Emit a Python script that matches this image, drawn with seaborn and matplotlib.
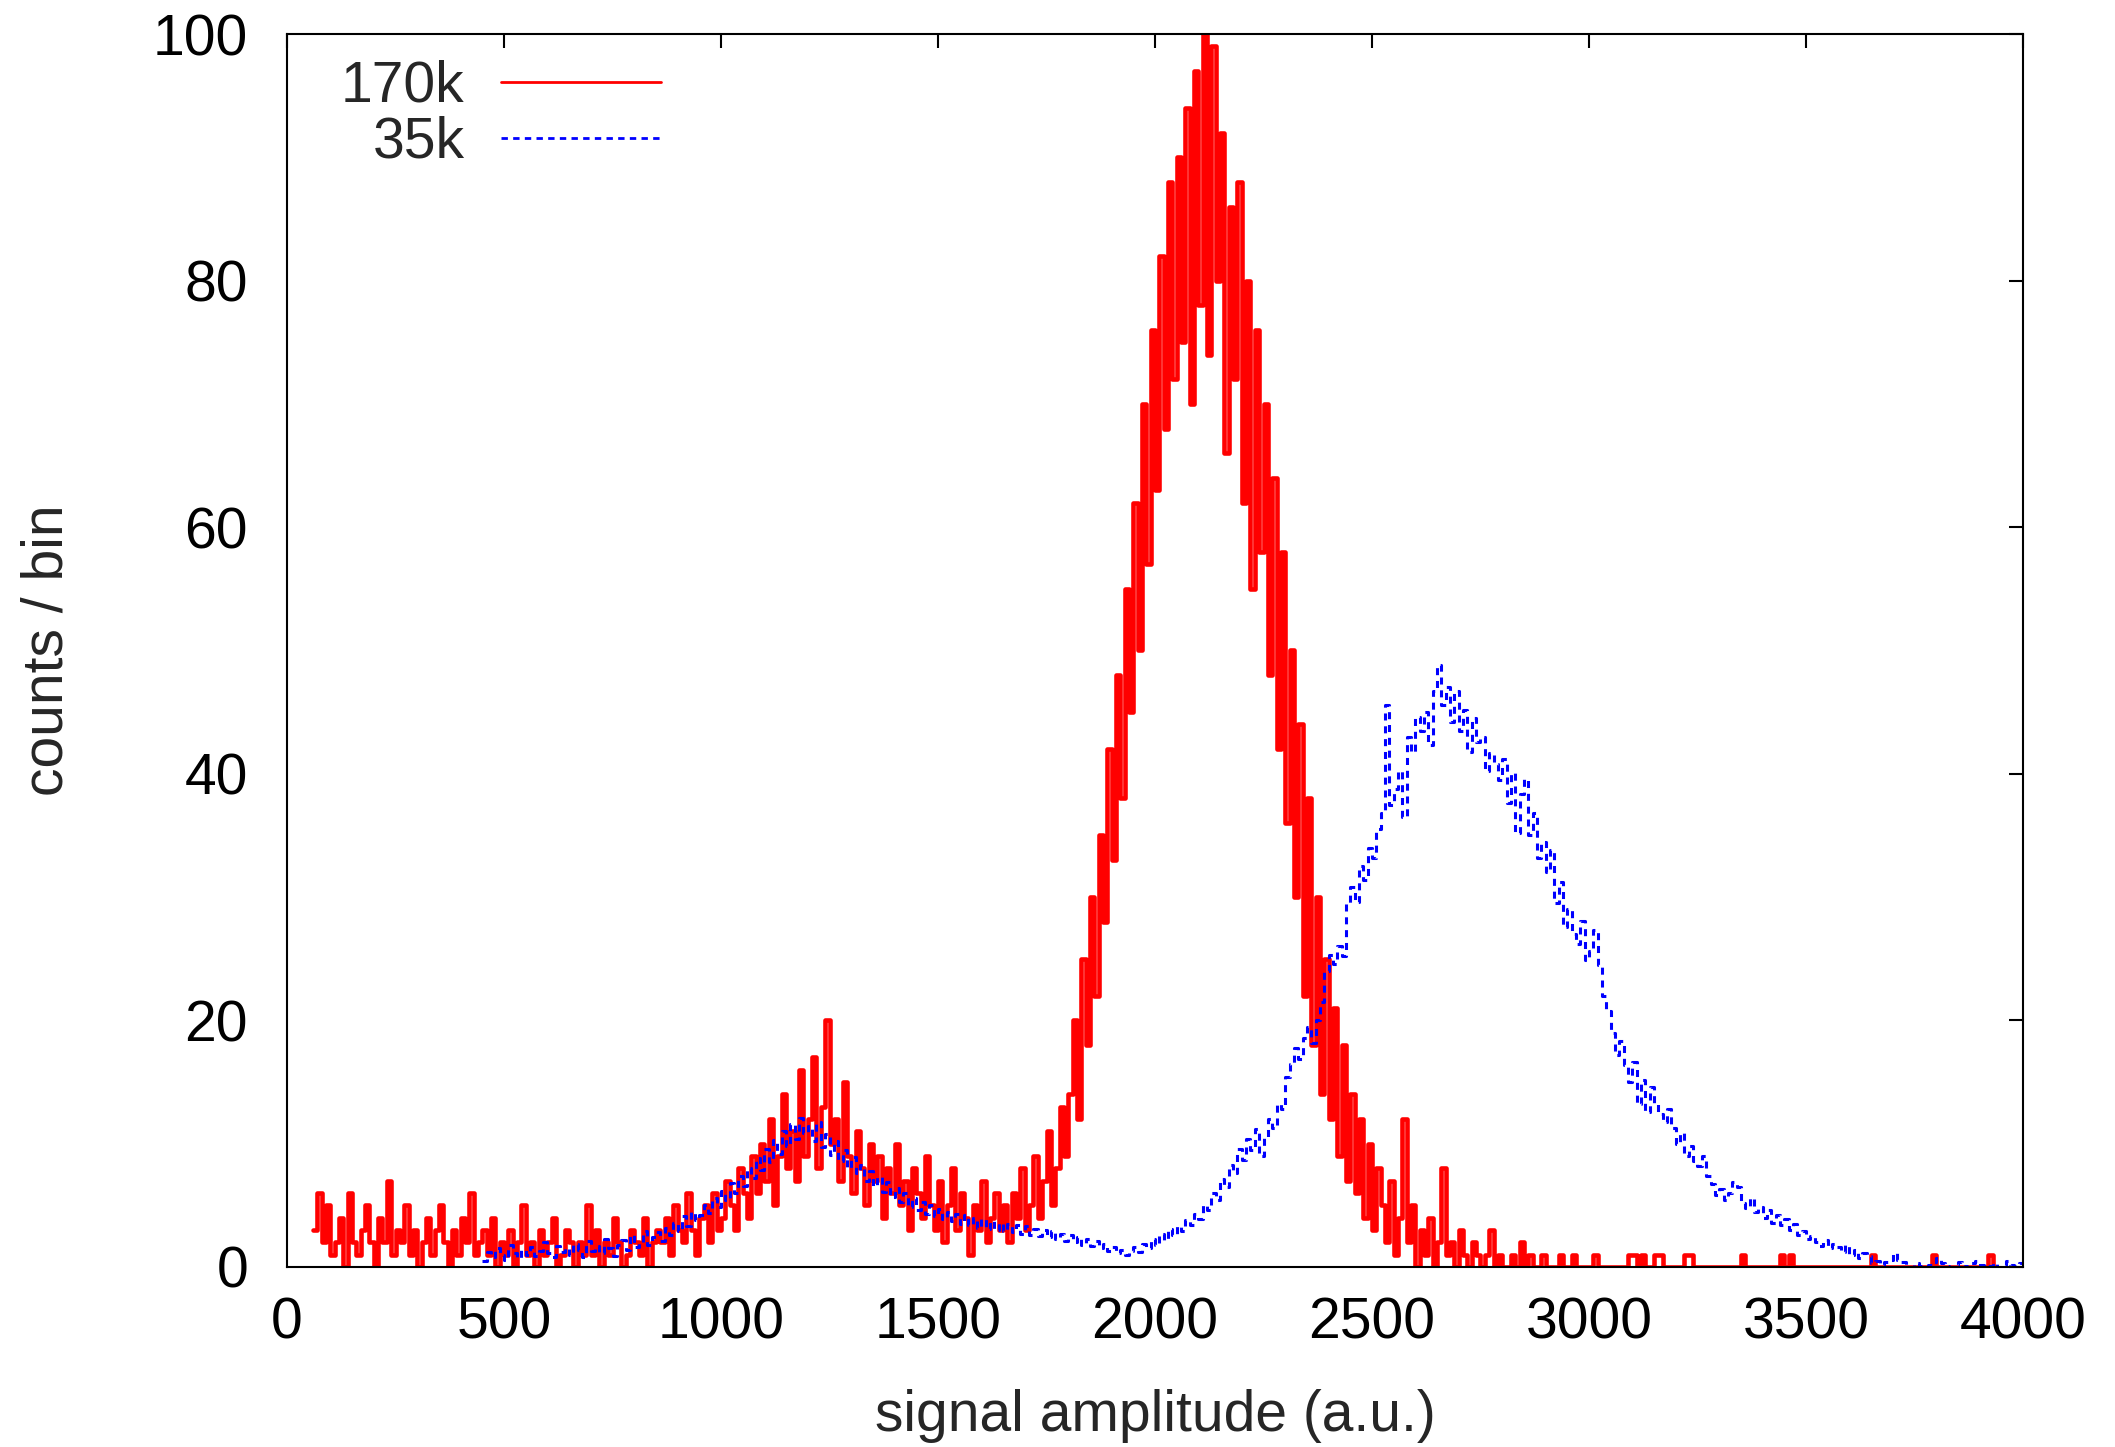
import numpy as np
import pandas as pd
import seaborn as sb
import matplotlib.pyplot as plt

# histogram of the 170k run: first bin edge, bin width, counts per bin
red_start, red_width = 60, 10
red_counts = [
    3, 6, 2, 5, 1, 2, 4, 0, 6, 2, 1, 3, 5, 2, 0, 4, 2, 7, 1, 3,          # 60
    2, 5, 1, 3, 0, 2, 4, 1, 3, 5, 2, 0, 3, 1, 4, 2, 6, 1, 2, 3,          # 260
    1, 4, 0, 2, 1, 3, 0, 2, 5, 1, 2, 0, 3, 1, 2, 4, 0, 1, 3, 2,          # 460
    0, 2, 1, 5, 1, 3, 0, 2, 1, 4, 2, 0, 1, 3, 2, 1, 4, 0, 2, 3,          # 660
    2, 4, 1, 5, 3, 2, 6, 3, 1, 4, 5, 2, 6, 3, 4, 7, 5, 3, 8, 6,          # 860
    4, 9, 6, 10, 7, 12, 5, 9, 14, 8, 11, 7, 16, 9, 12, 17, 8, 13, 20, 10,  # 1060
    12, 7, 15, 9, 6, 11, 8, 5, 10, 7, 9, 4, 8, 6, 10, 5, 7, 3, 8, 6,     # 1260
    4, 9, 5, 3, 7, 2, 5, 8, 3, 6, 4, 1, 5, 3, 7, 2, 4, 6, 3, 5,          # 1460
    2, 6, 4, 8, 3, 5, 9, 4, 7, 11, 5, 8, 13, 9, 14, 20, 12, 25, 18, 30,  # 1660
    22, 35, 28, 42, 33, 48, 38, 55, 45, 62, 50, 70, 57, 76, 63, 82, 68, 88, 72, 90,   # 1860
    75, 94, 70, 97, 78, 100, 74, 99, 80, 92, 66, 86, 72, 88, 62, 80, 55, 76, 58, 70,  # 2060
    48, 64, 42, 58, 36, 50, 30, 44, 22, 38, 18, 30, 14, 25, 12, 21, 9, 18, 7, 14,     # 2260
    6, 12, 4, 10, 3, 8, 5, 2, 7, 1, 4, 12, 2, 5, 0, 3, 1, 4, 0, 2,       # 2460
    8, 1, 2, 0, 3, 1, 0, 2, 1, 0, 1, 3, 0, 1, 0, 0, 1, 0, 2, 0,          # 2660
    1, 0, 0, 1, 0, 0, 0, 1, 0, 0, 1, 0, 0, 0, 0, 1, 0, 0, 0, 0,          # 2860
    0, 0, 0, 1, 1, 0, 1, 0, 0, 1, 1, 0, 0, 0, 0, 0, 1, 1, 0, 0,          # 3060
    0, 0, 0, 0, 0, 0, 0, 0, 0, 1, 0, 0, 0, 0, 0, 0, 0, 0, 1, 0,          # 3260
    1, 0, 0, 0, 0, 0, 0, 0, 0, 0, 0, 0, 0, 0, 0, 0, 0, 0, 0, 1,          # 3460
    0, 0, 0, 0, 0, 0, 0, 0, 0, 0, 0, 0, 0, 1, 0, 0, 0, 0, 0, 0,          # 3660
    0, 0, 0, 0, 0, 0, 1, 0,                                              # 3860
]

# histogram of the 35k run
blue_start, blue_width = 450, 10
blue_counts = [
    0.5, 1.2, 0.8, 1.5, 1.0, 0.6, 1.8, 1.1, 0.7, 1.4, 1.0, 1.6, 0.9, 1.3, 2.0, 1.1, 0.8, 1.7, 1.2, 1.5,          # 450
    1.0, 1.9, 1.4, 0.8, 2.1, 1.3, 1.7, 1.1, 2.3, 1.5, 0.9, 1.8, 2.2, 1.4, 2.6, 1.6, 2.0, 2.9, 1.8, 2.4,          # 650
    2.8, 2.1, 3.2, 2.6, 3.6, 2.9, 4.1, 3.3, 4.5, 3.8, 4.2, 5.0, 4.4, 5.6, 4.9, 6.2, 5.4, 6.8, 6.0, 7.4,          # 850
    6.6, 8.0, 7.2, 8.8, 7.9, 9.6, 8.5, 10.3, 9.2, 11.0, 9.8, 11.6, 10.4, 12.1, 10.9, 11.4, 10.2, 11.8, 9.7, 10.8,  # 1050
    9.1, 10.2, 8.6, 9.5, 8.0, 8.9, 7.6, 8.3, 7.0, 7.8, 6.6, 7.3, 6.1, 6.9, 5.7, 6.4, 5.3, 6.0, 4.9, 5.6,        # 1250
    4.6, 5.3, 4.3, 5.0, 4.1, 4.7, 3.9, 4.5, 3.7, 4.3, 3.5, 4.2, 3.4, 4.0, 3.2, 3.9, 3.1, 3.7, 3.0, 3.6,         # 1450
    2.9, 3.5, 2.8, 3.4, 2.7, 3.3, 2.6, 3.1, 2.5, 3.0, 2.4, 2.9, 2.3, 2.7, 2.1, 2.6, 2.0, 2.4, 1.8, 2.3,         # 1650
    1.7, 2.1, 1.5, 1.9, 1.3, 1.6, 1.1, 1.4, 1.0, 1.3, 1.6, 1.2, 1.9, 1.5, 2.3, 1.8, 2.7, 2.2, 3.1, 2.6,         # 1850
    3.3, 2.9, 3.8, 3.4, 4.3, 3.9, 5.0, 4.6, 6.0, 5.4, 7.1, 6.5, 8.3, 7.6, 9.6, 8.7, 10.4, 9.5, 11.2, 9.0,       # 2050
    10.5, 12.0, 11.3, 13.2, 12.8, 15.4, 16.5, 17.8, 16.9, 18.6, 19.5, 18.2, 20.0, 21.5, 24.0, 25.3, 24.6, 26.0, 25.2, 29.5,  # 2250
    30.8, 29.6, 32.5, 31.4, 34.0, 33.2, 35.5, 36.8, 45.6, 37.5, 38.8, 40.2, 36.5, 43.0, 41.8, 44.6, 43.5, 45.0, 42.3, 46.7,  # 2450
    48.8, 45.6, 47.0, 44.2, 46.7, 43.5, 45.2, 41.8, 44.5, 42.6, 43.0, 40.2, 41.7, 40.8, 39.5, 41.2, 37.6, 40.1, 35.2, 38.4,  # 2650
    39.6, 35.0, 36.8, 33.2, 34.5, 32.0, 33.8, 29.5, 31.2, 27.6, 29.0, 27.0, 26.2, 28.1, 24.9, 25.6, 27.3, 24.5, 22.0, 20.8,  # 2850
    19.0, 17.2, 18.3, 16.4, 15.0, 16.6, 13.2, 15.2, 12.6, 14.6, 13.3, 12.4, 11.8, 12.8, 11.3, 10.0, 10.9, 9.0, 9.8, 8.6,     # 3050
    8.2, 9.0, 7.4, 6.7, 5.8, 6.3, 5.4, 6.0, 6.9, 6.5, 5.2, 4.8, 5.6, 4.5, 4.9, 4.0, 4.6, 3.6, 4.2, 3.4,        # 3250
    3.9, 3.0, 3.5, 2.6, 2.9, 2.3, 2.5, 2.0, 1.7, 2.2, 1.5, 1.9, 1.6, 1.2, 1.8, 1.0, 1.4, 0.7, 1.1, 0.9,        # 3450
    0.3, 0.5, 0.2, 0.4, 0.6, 1.1, 0.6, 0.4, 0.2, 0.0, 0.3, 0.1, 0.0, 0.2, 0.4, 0.7, 0.3, 0.1, 0.0, 0.2,        # 3650
    0.4, 0.1, 0.0, 0.3, 0.5, 0.2, 0.0, 0.1, 0.3, 0.0, 0.2, 0.5, 0.2, 0.1, 0.3,                                 # 3850
]

series_labels = ["170k", "35k"]
x_ticks = [0, 500, 1000, 1500, 2000, 2500, 3000, 3500, 4000]
y_ticks = [0, 20, 40, 60, 80, 100]
FS = 41


def to_frame(start, width, counts):
    centers = start + width * (np.arange(len(counts)) + 0.5)
    rng = (start, start + width * len(counts))
    return pd.DataFrame({"amp": centers, "counts": counts}), rng


sb.set_style("white")
plt.rcParams["font.family"] = ["Liberation Sans", "DejaVu Sans"]

fig = plt.figure(figsize=(21.15, 14.47), dpi=100)
ax = fig.add_axes([0.1357, 0.1244, 0.8208, 0.8521])

red_df, red_rng = to_frame(red_start, red_width, red_counts)
blue_df, blue_rng = to_frame(blue_start, blue_width, blue_counts)

sb.histplot(data=red_df, x="amp", weights="counts", binwidth=red_width, binrange=red_rng,
            element="step", fill=False, color="#ff0000", linewidth=3.3, ax=ax)
sb.histplot(data=blue_df, x="amp", weights="counts", binwidth=blue_width, binrange=blue_rng,
            element="step", fill=False, color="#0000ff", linewidth=2.2,
            linestyle=(0, (2.3, 1.9)), ax=ax)

ax.set_xlim(0, 4000)
ax.set_ylim(0, 100)
ax.set_xticks(x_ticks)
ax.set_yticks(y_ticks)
ax.tick_params(direction="in", length=10, width=1.5, top=True, right=True,
               labelsize=FS, colors="black")
ax.tick_params(axis="x", pad=21)
ax.tick_params(axis="y", pad=28)
for s in ax.spines.values():
    s.set_linewidth(1.5)
    s.set_color("black")

ax.set_xlabel("signal amplitude (a.u.)", fontsize=FS, va="center")
ax.set_ylabel("counts / bin", fontsize=FS, va="center")
ax.xaxis.set_label_coords(0.5, -0.121)
ax.yaxis.set_label_coords(-0.138, 0.5)

lines = ax.get_lines()
leg = ax.legend(lines[:2], series_labels, loc="upper right", bbox_to_anchor=(0.2154, 0.979),
                frameon=False, markerfirst=False, handlelength=2.8, handletextpad=0.65,
                labelspacing=0.03, borderpad=0, borderaxespad=0, fontsize=FS)
for h in leg.get_lines():
    h.set_linewidth(2.0)

fig.savefig("out.png", dpi=100)
